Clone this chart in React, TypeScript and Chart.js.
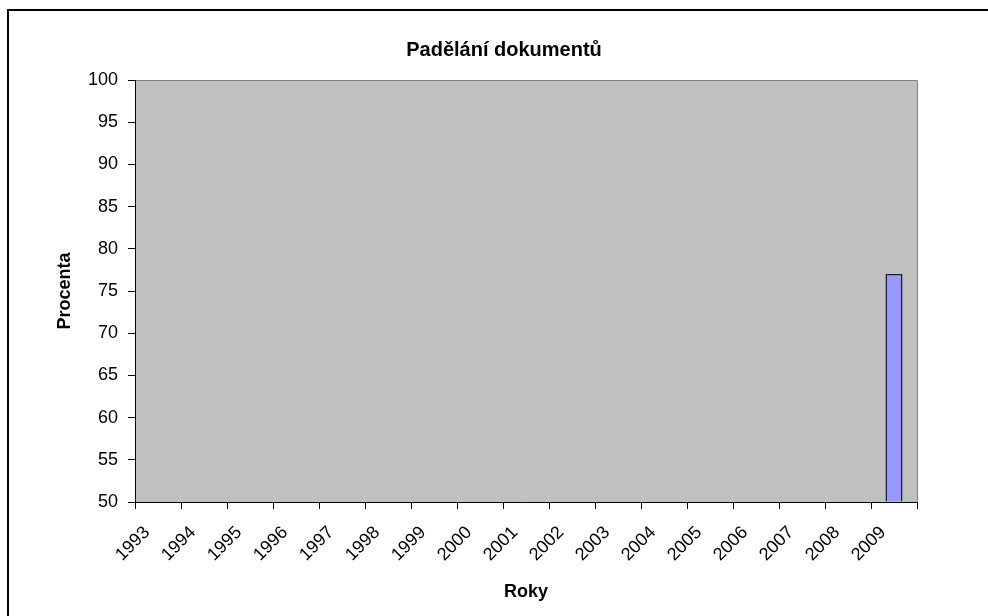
import React, { useEffect, useRef } from "react";
import { Chart, registerables } from "chart.js";

Chart.register(...registerables);

const years = ["1993","1994","1995","1996","1997","1998","1999","2000","2001","2002","2003","2004","2005","2006","2007","2008","2009"];
const values: (number | null)[] = [null,null,null,null,null,null,null,null,null,null,null,null,null,null,null,null,77];
const yMin = 50;
const yMax = 100;
const yStep = 5;
const chartTitle = "Padělání dokumentů";
const xTitle = "Roky";
const yTitle = "Procenta";

const FONT = "'Liberation Sans', Arial, sans-serif";

export default function App() {
  const ref = useRef<HTMLCanvasElement>(null);
  useEffect(() => {
    if (!ref.current) return;
    const bgPlugin = {
      id: "bg",
      beforeDraw(chart: any) {
        const { ctx, chartArea: a } = chart;
        ctx.save();
        ctx.fillStyle = "#ffffff";
        ctx.fillRect(0, 0, chart.width, chart.height);
        ctx.fillStyle = "#C0C0C0";
        ctx.fillRect(a.left, a.top, a.right - a.left, a.bottom - a.top);
        ctx.strokeStyle = "#808080";
        ctx.lineWidth = 1;
        ctx.beginPath();
        ctx.moveTo(a.left, a.top + 0.5);
        ctx.lineTo(a.right + 0.5, a.top + 0.5);
        ctx.lineTo(a.right + 0.5, a.bottom);
        ctx.stroke();
        // outer chart frame
        ctx.fillStyle = "#000000";
        ctx.fillRect(7, 9, chart.width - 7, 2);
        ctx.fillRect(7, 9, 2, chart.height - 9);
        // chart title
        ctx.font = `bold 20px ${FONT}`;
        ctx.textAlign = "center";
        ctx.textBaseline = "middle";
        ctx.fillText(chartTitle, 504, 50);
        ctx.restore();
      },
    };
    const chart = new Chart(ref.current, {
      type: "bar",
      data: {
        labels: years,
        datasets: [
          {
            data: values,
            base: yMin,
            backgroundColor: "#9999FF",
            borderColor: "#1a1a2e",
            borderWidth: 1.5,
            barPercentage: 0.37,
            categoryPercentage: 1,
          } as any,
        ],
      },
      options: {
        animation: false,
        responsive: false,
        devicePixelRatio: 1,
        layout: { padding: { left: 0, right: 71, top: 80, bottom: 0 } },
        plugins: { legend: { display: false }, tooltip: { enabled: false }, title: { display: false } },
        scales: {
          x: {
            grid: { offset: true, drawOnChartArea: false, drawTicks: true, tickLength: 7, color: "#000000" },
            border: { display: true, color: "#000000", width: 1 },
            ticks: {
              color: "#000000",
              font: { family: FONT, size: 18 },
              minRotation: 45,
              maxRotation: 45,
              autoSkip: false,
              labelOffset: -11,
              padding: 13,
            },
            title: { display: true, text: xTitle, color: "#000000", font: { family: FONT, size: 18, weight: "bold" }, padding: { top: 0, bottom: 13 } },
            afterFit: (s: any) => { s.height = 114; },
          },
          y: {
            min: yMin,
            max: yMax,
            grid: { drawOnChartArea: false, drawTicks: true, tickLength: 7, color: "#000000" },
            border: { display: true, color: "#000000", width: 1 },
            ticks: { stepSize: yStep, color: "#000000", font: { family: FONT, size: 18 }, padding: 10 },
            title: { display: true, text: yTitle, color: "#000000", font: { family: FONT, size: 18, weight: "bold" }, padding: { top: 54, bottom: 0 } },
            afterFit: (s: any) => { s.width = 135; },
          },
        },
      },
      plugins: [bgPlugin],
    });
    return () => chart.destroy();
  }, []);
  return (
    <div style={{ position: "absolute", left: 0, top: 0, width: 988, height: 616 }}>
      <canvas ref={ref} width={988} height={616} style={{ width: 988, height: 616, display: "block" }} />
    </div>
  );
}
